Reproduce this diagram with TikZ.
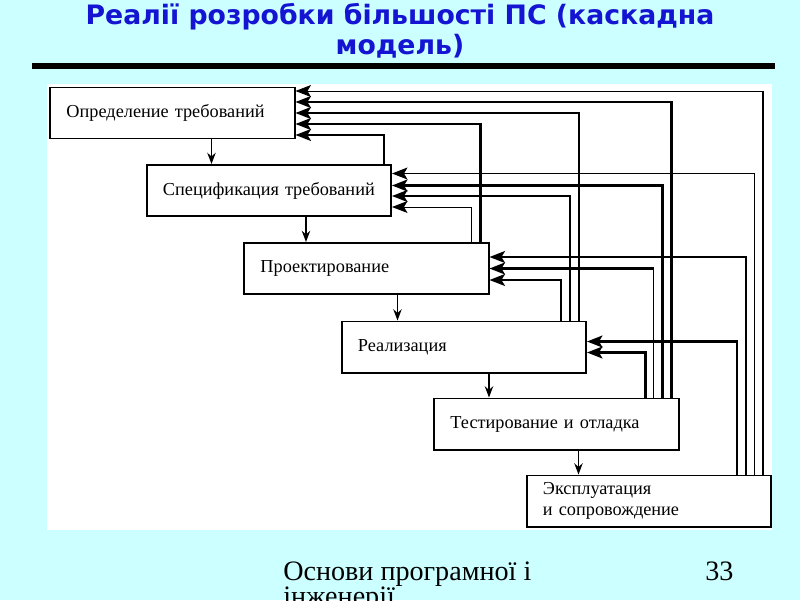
\documentclass[tikz,border=0pt]{standalone}
\usepackage{fontspec}
\setmainfont{Liberation Serif}
\newfontfamily\headfont{DejaVu Sans}
\usetikzlibrary{arrows.meta,calc}

\definecolor{slidebg}{RGB}{204,255,255}
\definecolor{headblue}{RGB}{20,20,210}

\tikzset{
  stage/.style={draw, line width=1.4pt, fill=white, inner xsep=0.4cm,
    inner ysep=0pt, text width=5.3cm, minimum height=1.275cm, align=left,
    font=\fontsize{13}{15}\selectfont},
  headtext/.style={inner sep=0pt, text=headblue,
    font=\headfont\bfseries\fontsize{19}{22}\selectfont},
  foot/.style={inner sep=0pt, font=\fontsize{20}{24}\selectfont},
  fwd/.style={line width=1pt, -{Stealth[length=8pt,width=6pt]}},
  fb/.style={line width=1.6pt, -{Stealth[length=11pt,width=8.5pt,inset=2.5pt]}},
  fbthin/.style={fb, line width=0.6pt},
  fbleg/.style={line width=1.6pt},
  fbthinleg/.style={line width=0.6pt}
}

\begin{document}
\begin{tikzpicture}[x=0.025cm, y=-0.025cm]
    % Slide
    \useasboundingbox (0,0) rectangle (800,600);
    \clip (0,0) rectangle (800,600);
    \fill[slidebg] (0,0) rectangle (800,600);
    \node[headtext, anchor=base] (head1) at (400,24)
    {Реалії розробки більшості ПС (каскадна};
    \node[headtext, anchor=base] (head2) at (400,54) {модель)};
    \draw[line width=3.6pt] (32,66) -- (775,66); % rule
    \fill[white] (47,84) rectangle (772,530); % panel
    % Stages
    \node[stage] (req) at (172.5,113) {Определение требований};
    \node[stage] (spec) at (269,190.5) {Спецификация требований};
    \node[stage] (design) at (366.5,268.5) {Проектирование};
    \node[stage] (impl) at (464,347) {Реализация};
    \node[stage] (test) at (556.5,424) {Тестирование и отладка};
    \node[stage] (oper) at (649,501) {Эксплуатация\\и сопровождение};
    % Forward arrows
    \coordinate (d1) at ($(req.south west)+(162,0)$);
    \coordinate (d2) at ($(spec.south west)+(160,0)$);
    \coordinate (d3) at ($(design.south west)+(154,0)$);
    \coordinate (d4) at ($(impl.south west)+(148,0)$);
    \coordinate (d5) at ($(test.south west)+(145,0)$);
    \draw[fwd] (d1) -- (d1 |- spec.north);
    \draw[fwd] (d2) -- (d2 |- design.north);
    \draw[fwd] (d3) -- (d3 |- impl.north);
    \draw[fwd] (d4) -- (d4 |- test.north);
    \draw[fwd] (d5) -- (d5 |- oper.north);
    % Feedback to req
    \draw[fb] ($(spec.north east)+(-8,0)$) |- ($(req.east)+(0,22)$);
    \draw[fb] ($(design.north east)+(-9,0)$) |- ($(req.east)+(0,11)$);
    \draw[fb] ($(impl.north east)+(-8,0)$) |- (req.east);
    \draw[fb] ($(test.north east)+(-8,0)$) |- ($(req.east)+(0,-11)$);
    \coordinate (o1) at ($(oper.north east)+(-9,0)$);
    \coordinate (r1) at ($(req.east)+(0,-22)$);
    \draw[fbleg] (o1) -- (o1 |- r1);
    \draw[fbthin] (o1 |- r1) -- (r1);
    % Feedback to spec
    \draw[fbthin] ($(design.north east)+(-18,0)$) |- ($(spec.east)+(0,16.5)$);
    \draw[fb] ($(impl.north east)+(-17,0)$) |- ($(spec.east)+(0,5.5)$);
    \draw[fb] ($(test.north east)+(-17,0)$) |- ($(spec.east)+(0,-5)$);
    \draw[fbthin] ($(oper.north east)+(-18,0)$) |- ($(spec.east)+(0,-17)$);
    % Feedback to design
    \draw[fb] ($(impl.north east)+(-26,0)$) |- ($(design.east)+(0,11.5)$);
    \coordinate (t3) at ($(test.north east)+(-26,0)$);
    \draw[fbthinleg] (t3) -- (t3 |- design.east);
    \draw[fb] (t3 |- design.east) -- (design.east);
    \draw[fb] ($(oper.north east)+(-26,0)$) |- ($(design.east)+(0,-11.5)$);
    % Feedback to impl
    \draw[fb] ($(test.north east)+(-34,0)$) |- ($(impl.east)+(0,5.5)$);
    \draw[fb] ($(oper.north east)+(-35,0)$) |- ($(impl.east)+(0,-5.5)$);
    % Footer
    \node[foot, anchor=base west] (foot1) at (283,580) {Основи програмної і};
    \node[foot, anchor=base west] (foot2) at (283,605) {інженерії};
    \node[foot, anchor=base west] (page) at (705,580) {33};
\end{tikzpicture}
\end{document}
